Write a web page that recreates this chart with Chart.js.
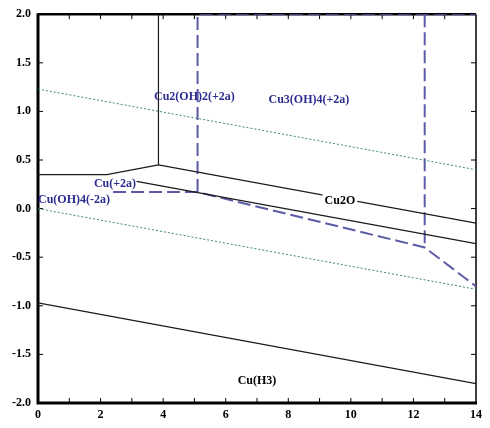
<!DOCTYPE html>
<html>
<head>
<meta charset="utf-8">
<script src="https://cdn.jsdelivr.net/npm/chart.js@4"></script>
<style>
  html, body { margin: 0; padding: 0; background: #fff; }
  #wrap { width: 490px; height: 428px; }
</style>
</head>
<body>
<div id="wrap"><canvas id="chart" width="490" height="428"></canvas></div>
<script>
// pH axis / potential axis
const xMin = 0, xMax = 14;
const yMin = -2, yMax = 2;

// solid phase boundaries
const cu2oTopX = [0, 2.2, 3.85, 14];
const cu2oTopY = [0.35, 0.35, 0.45, -0.15];
const cu2VertX = [3.85, 3.85];
const cu2VertY = [0.45, 2.0];
const cu2oLowX = [3.15, 14];
const cu2oLowY = [0.28, -0.36];
const cuh3X = [0, 14];
const cuh3Y = [-0.97, -1.8];

// water stability lines (dotted)
const o2LineX = [0, 14];
const o2LineY = [1.23, 0.40];
const h2LineX = [0, 14];
const h2LineY = [0, -0.83];

// aqueous boundaries (dashed)
const aqLowX = [2.4, 5.1, 12.36, 14];
const aqLowY = [0.17, 0.17, -0.4, -0.8];
const aqVertX = [5.1, 5.1, 14];
const aqVertY = [0.17, 2.0, 2.0];
const aqRightX = [12.36, 12.36];
const aqRightY = [2.0, -0.4];

// region labels
const labelText = ["Cu2(OH)2(+2a)", "Cu3(OH)4(+2a)", "Cu2O", "Cu(+2a)", "Cu(OH)4(-2a)", "Cu(H3)"];
const labelX = [5.0, 8.66, 9.65, 2.46, 1.15, 7.0];
const labelY = [1.15, 1.12, 0.08, 0.25, 0.09, -1.77];
const labelColor = ["#2d2d8f", "#2d2d8f", "#000", "#2d2d8f", "#2d2d8f", "#000"];

function pts(xs, ys) {
  return xs.map((x, i) => ({ x: x, y: ys[i] }));
}

function solid(xs, ys) {
  return { data: pts(xs, ys), showLine: true, borderColor: "#1a1a1a", borderWidth: 1.2, pointRadius: 0, fill: false };
}
function dotted(xs, ys) {
  return { data: pts(xs, ys), showLine: true, borderColor: "#3a8a74", borderWidth: 1, borderDash: [2, 2], pointRadius: 0, fill: false };
}
function dashed(xs, ys) {
  return { data: pts(xs, ys), showLine: true, borderColor: "#5a5aa6", borderWidth: 2, borderDash: [13, 5], pointRadius: 0, fill: false };
}

const frame = {
  id: "frame",
  beforeDatasetsDraw(chart) {
    const ctx = chart.ctx;
    const a = chart.chartArea;
    const xs = chart.scales.x, ys = chart.scales.y;
    ctx.save();
    ctx.strokeStyle = "#000";
    // minor ticks, inward
    ctx.lineWidth = 1;
    ctx.beginPath();
    for (let v = xMin + 1; v < xMax; v++) {
      const px = xs.getPixelForValue(v);
      ctx.moveTo(px, a.bottom); ctx.lineTo(px, a.bottom - 5);
      ctx.moveTo(px, a.top); ctx.lineTo(px, a.top + 5);
    }
    for (let v = yMin + 0.5; v < yMax; v += 0.5) {
      const py = ys.getPixelForValue(v);
      ctx.moveTo(a.left, py); ctx.lineTo(a.left + 5, py);
      ctx.moveTo(a.right, py); ctx.lineTo(a.right - 5, py);
    }
    ctx.stroke();
    // box
    ctx.lineWidth = 1.5;
    ctx.beginPath();
    ctx.moveTo(a.right, a.top); ctx.lineTo(a.right, a.bottom);
    ctx.stroke();
    ctx.lineWidth = 2.5;
    ctx.beginPath();
    ctx.moveTo(a.left, a.top); ctx.lineTo(a.right, a.top);
    ctx.stroke();
    ctx.lineWidth = 3;
    ctx.beginPath();
    ctx.moveTo(a.left, a.top - 1); ctx.lineTo(a.left, a.bottom); ctx.lineTo(a.right + 1, a.bottom);
    ctx.stroke();
    ctx.restore();
  },
  afterDatasetsDraw(chart) {
    const ctx = chart.ctx;
    const xs = chart.scales.x, ys = chart.scales.y;
    ctx.save();
    ctx.font = "bold 12px 'Liberation Serif', 'DejaVu Serif', serif";
    ctx.textAlign = "center";
    ctx.textBaseline = "middle";
    labelText.forEach((t, i) => {
      const px = xs.getPixelForValue(labelX[i]);
      const py = ys.getPixelForValue(labelY[i]);
      if (t === "Cu2O") {
        const w = ctx.measureText(t).width;
        ctx.fillStyle = "#fff";
        ctx.fillRect(px - w / 2 - 2, py - 7, w + 4, 14);
      }
      ctx.fillStyle = labelColor[i];
      ctx.fillText(t, px, py);
    });
    ctx.restore();
  }
};

new Chart(document.getElementById("chart").getContext("2d"), {
  type: "scatter",
  data: {
    datasets: [
      solid(cu2oTopX, cu2oTopY),
      solid(cu2VertX, cu2VertY),
      solid(cu2oLowX, cu2oLowY),
      solid(cuh3X, cuh3Y),
      dotted(o2LineX, o2LineY),
      dotted(h2LineX, h2LineY),
      dashed(aqLowX, aqLowY),
      dashed(aqVertX, aqVertY),
      dashed(aqRightX, aqRightY),
    ],
  },
  options: {
    responsive: false,
    animation: false,
    events: [],
    layout: { padding: { top: 14, right: 14, left: 0, bottom: 0 } },
    plugins: { legend: { display: false }, tooltip: { enabled: false } },
    scales: {
      x: {
        type: "linear",
        min: xMin,
        max: xMax,
        grid: { display: false, drawTicks: false },
        border: { display: false },
        ticks: {
          stepSize: 2,
          padding: 5,
          color: "#000",
          font: { family: "'Liberation Serif', serif", size: 12, weight: "bold" },
        },
        afterFit(scale) { scale.height = 25; },
      },
      y: {
        type: "linear",
        min: yMin,
        max: yMax,
        grid: { display: false, drawTicks: false },
        border: { display: false },
        ticks: {
          stepSize: 0.5,
          padding: 7,
          color: "#000",
          font: { family: "'Liberation Serif', serif", size: 12, weight: "bold" },
          callback: (v) => Number(v).toFixed(1),
        },
        afterFit(scale) { scale.width = 38; },
      },
    },
  },
  plugins: [frame],
});
</script>
</body>
</html>
